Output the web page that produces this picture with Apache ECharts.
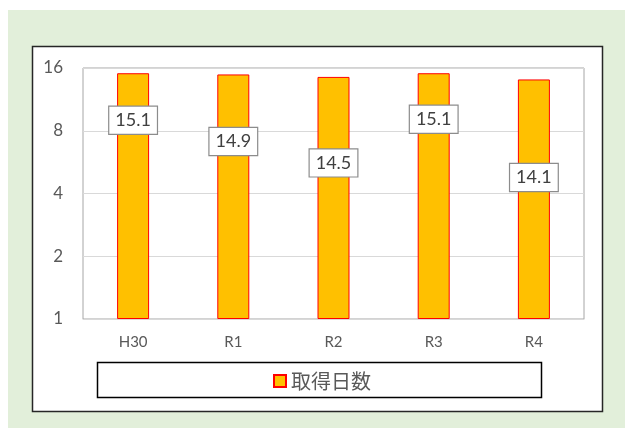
<!DOCTYPE html>
<html>
<head>
<meta charset="utf-8">
<script src="https://cdn.jsdelivr.net/npm/echarts@6/dist/echarts.min.js"></script>
<style>html,body{margin:0;padding:0;background:#fff}#c{width:625px;height:428px}</style>
</head>
<body>
<div id="c"></div>
<script>
const categories = ['H30', 'R1', 'R2', 'R3', 'R4'];
const values = [15.1, 14.9, 14.5, 15.1, 14.1];
const seriesName = '取得日数';
const yTicks = [1, 2, 4, 8, 16];
// label vertical offsets inside each bar (as drawn in the reference)
const labelOffsets = [47, 67, 86, 46, 98];

const chart = echarts.init(document.getElementById('c'), null, {renderer: 'canvas'});
const fontNum = 'Lato, "Noto Sans", sans-serif';
chart.setOption({
  backgroundColor: '#ffffff',
  animation: false,
  graphic: [
    {type: 'rect', z: -10, shape: {x: 8, y: 10, width: 617, height: 418}, style: {fill: '#e2efda'}},
    {type: 'rect', z: -9, shape: {x: 32.5, y: 46.5, width: 570, height: 365}, style: {fill: '#ffffff', stroke: '#262626', lineWidth: 1.5}},
    {type: 'rect', z: -8, shape: {x: 97.5, y: 362.5, width: 444, height: 35}, style: {fill: '#ffffff', stroke: '#000000', lineWidth: 1.5}}
  ],
  grid: {left: 83, top: 68, right: 41, bottom: 109, show: true, borderColor: '#a6a6a6', borderWidth: 1, backgroundColor: 'transparent'},
  legend: {
    data: [seriesName],
    top: 366, left: 268,
    itemWidth: 12, itemHeight: 12, itemGap: 5,
    textStyle: {fontSize: 20, color: '#595959', fontFamily: '"Noto Sans CJK JP", sans-serif'},
    icon: 'rect'
  },
  xAxis: {
    type: 'category', data: categories,
    axisLine: {show: true, lineStyle: {color: '#d9d9d9', width: 1}},
    axisTick: {show: false},
    axisLabel: {color: '#595959', fontSize: 15, margin: 16, fontFamily: fontNum}
  },
  yAxis: {
    type: 'log', logBase: 2, min: yTicks[0], max: yTicks[yTicks.length - 1],
    axisLine: {show: false}, axisTick: {show: false},
    splitLine: {lineStyle: {color: '#d9d9d9', width: 1}},
    axisLabel: {color: '#595959', fontSize: 17, margin: 20, fontFamily: fontNum}
  },
  series: [{
    name: seriesName, type: 'bar', barWidth: 32,
    itemStyle: {color: '#ffc000', borderColor: '#ff0000', borderWidth: 1},
    data: values.map((v, i) => ({
      value: v,
      label: {position: ['50%', labelOffsets[i]]}
    })),
    label: {
      show: true, align: 'center', verticalAlign: 'middle',
      color: '#404040', fontSize: 18, fontFamily: fontNum,
      backgroundColor: '#ffffff', borderColor: '#8c8c8c', borderWidth: 1.2,
      padding: [5, 6, 4, 6]
    }
  }]
});
</script>
</body>
</html>
